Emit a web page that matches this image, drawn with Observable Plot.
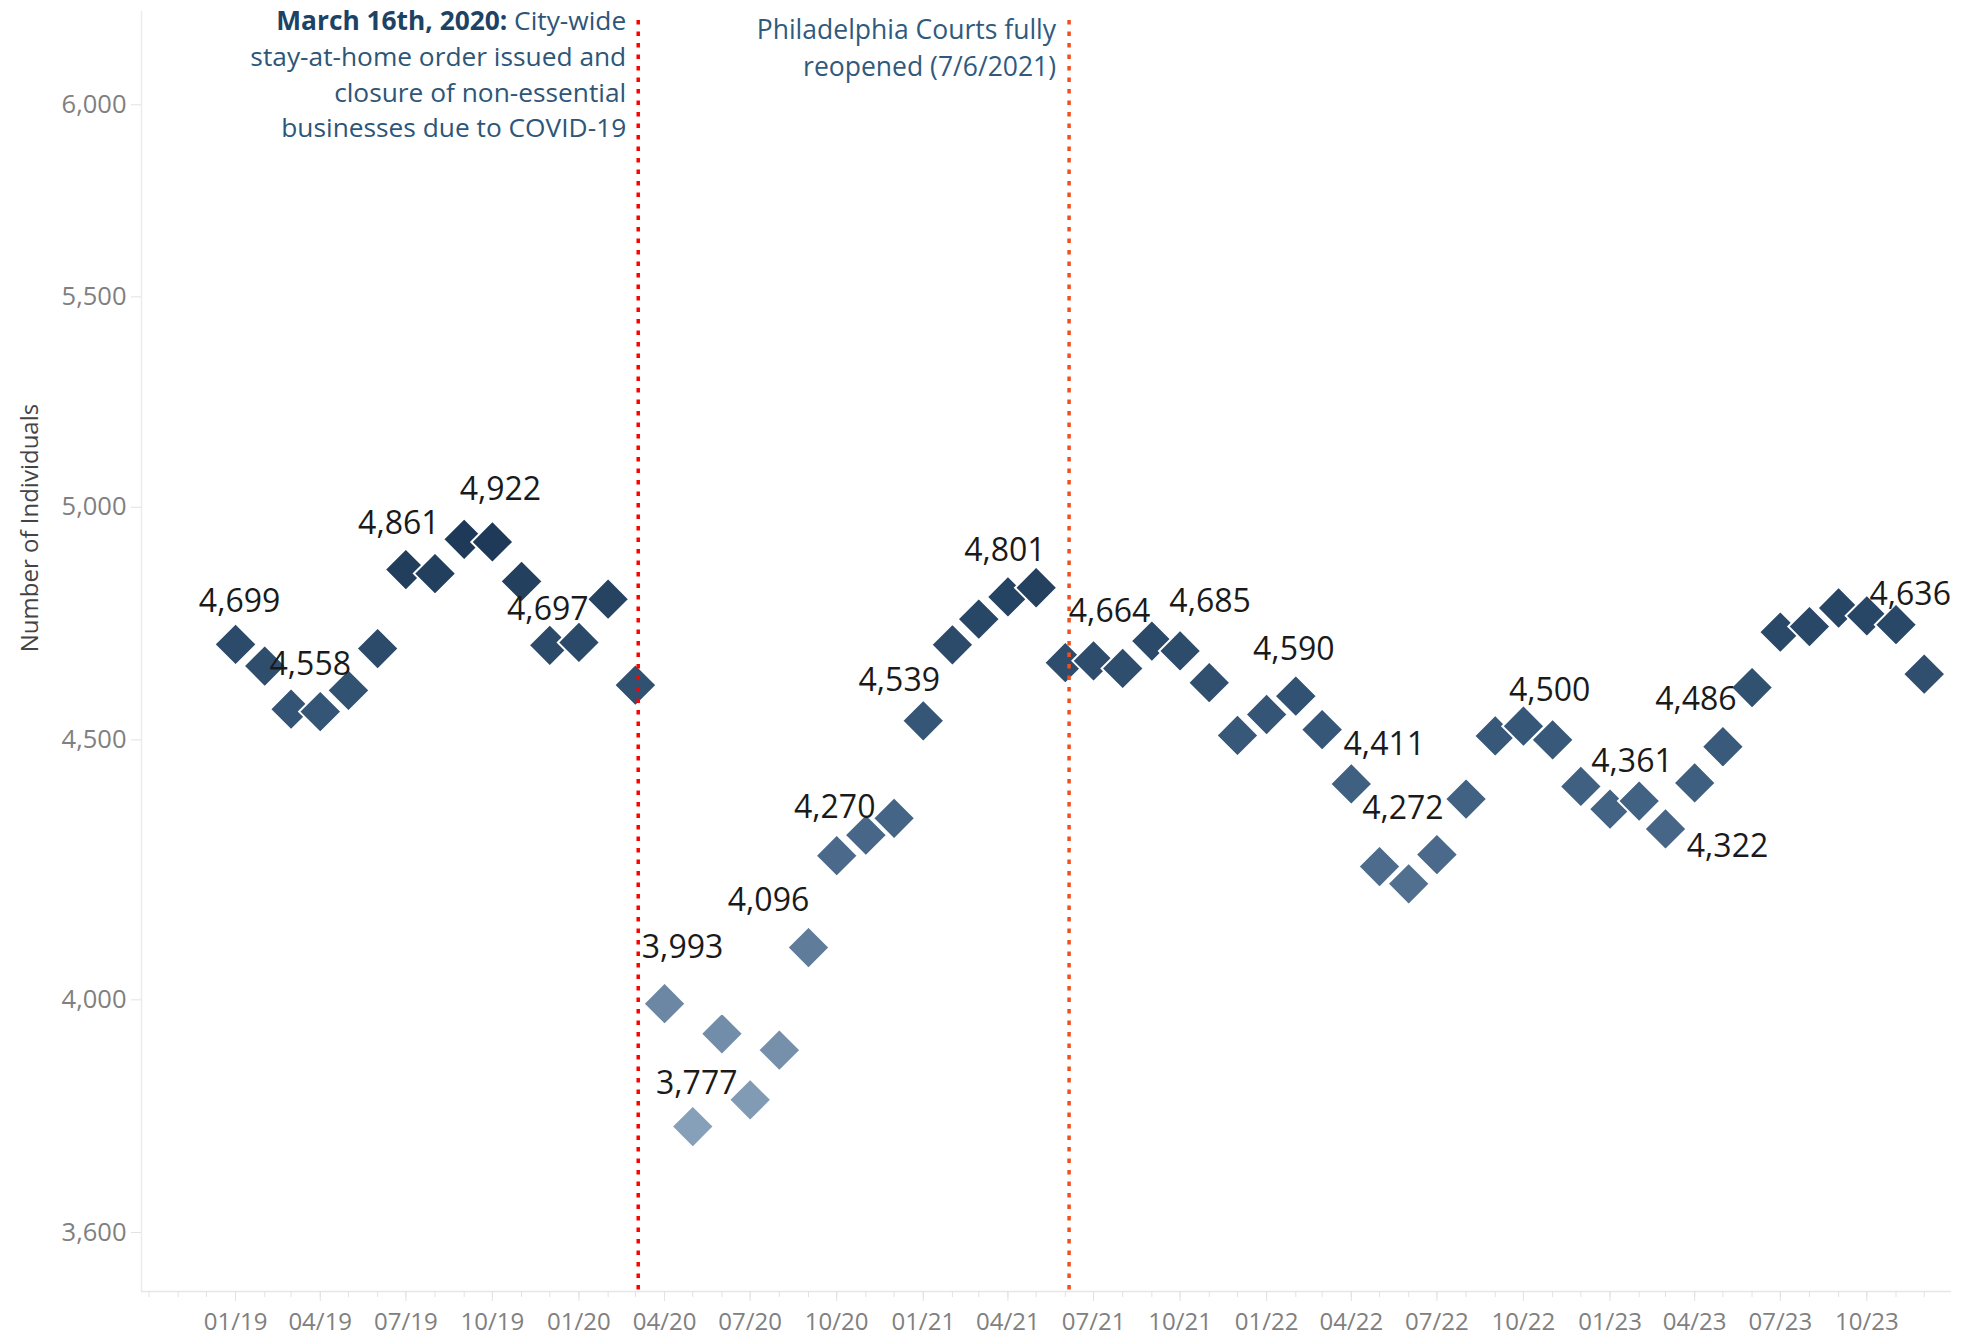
<!DOCTYPE html>
<html>
<head>
<meta charset="utf-8">
<script src="https://cdn.jsdelivr.net/npm/d3@7"></script>
<script src="https://cdn.jsdelivr.net/npm/@observablehq/plot@0.6"></script>
<style>
  html, body { margin: 0; padding: 0; background: #ffffff; }
  #chart { width: 1981px; height: 1339px; overflow: hidden; }
</style>
</head>
<body>
<div id="chart"></div>
<script>
// ---------------- DATA ----------------
const months = [
  "2019-01","2019-02","2019-03","2019-04","2019-05","2019-06","2019-07","2019-08","2019-09","2019-10","2019-11","2019-12",
  "2020-01","2020-02","2020-03","2020-04","2020-05","2020-06","2020-07","2020-08","2020-09","2020-10","2020-11","2020-12",
  "2021-01","2021-02","2021-03","2021-04","2021-05","2021-06","2021-07","2021-08","2021-09","2021-10","2021-11","2021-12",
  "2022-01","2022-02","2022-03","2022-04","2022-05","2022-06","2022-07","2022-08","2022-09","2022-10","2022-11","2022-12",
  "2023-01","2023-02","2023-03","2023-04","2023-05","2023-06","2023-07","2023-08","2023-09","2023-10","2023-11","2023-12"
];
const individuals = [
  4699, 4653, 4563, 4558, 4602, 4690, 4861, 4852, 4928, 4922, 4835, 4697,
  4703, 4796, 4613, 3993, 3777, 3939, 3823, 3910, 4096, 4270, 4310, 4343,
  4539, 4698, 4753, 4801, 4821, 4660, 4664, 4648, 4706, 4685, 4618, 4509,
  4552, 4590, 4521, 4411, 4249, 4216, 4272, 4381, 4508, 4528, 4500, 4406,
  4361, 4377, 4322, 4413, 4486, 4608, 4725, 4737, 4777, 4760, 4741, 4636
];
const labeledMonths = [
  "2019-01","2019-04","2019-07","2019-10","2019-12",
  "2020-04","2020-05","2020-09","2020-10",
  "2021-01","2021-04","2021-07","2021-10",
  "2022-02","2022-04","2022-07","2022-11",
  "2023-01","2023-03","2023-05","2023-12"
];
const yTicks = [3600, 4000, 4500, 5000, 5500, 6000];
const xTickMonths = [
  "2019-01","2019-04","2019-07","2019-10","2020-01","2020-04","2020-07","2020-10",
  "2021-01","2021-04","2021-07","2021-10","2022-01","2022-04","2022-07","2022-10",
  "2023-01","2023-04","2023-07","2023-10"
];
const eventDates = ["2020-03-04", "2021-06-05"];
const eventTexts = [
  "March 16th, 2020: City-wide\nstay-at-home order issued and\nclosure of non-essential\nbusinesses due to COVID-19",
  "Philadelphia Courts fully\nreopened (7/6/2021)"
];
const yTitle = "Number of Individuals";

// ---------------- LAYOUT / STYLE CONFIG ----------------
const labelPlacement = {
  "2019-01": [4, -43], "2019-04": [-10, -47], "2019-07": [-7, -46], "2019-10": [8, -52], "2019-12": [-2, -36],
  "2020-04": [18, -56], "2020-05": [4, -43], "2020-09": [-40, -47], "2020-10": [-2, -48],
  "2021-01": [-24, -40], "2021-04": [-3, -46], "2021-07": [16, -49], "2021-10": [30, -49],
  "2022-02": [-2, -46], "2022-04": [33, -39], "2022-07": [-34, -46], "2022-11": [-3, -49],
  "2023-01": [22, -47], "2023-03": [62, 18], "2023-05": [-27, -47], "2023-12": [-14, -79]
};
const colorStops = [3777, 4000, 4270, 4500, 4922];
const colorRange = ["#87a0b9", "#6a86a3", "#4b6a8b", "#38597a", "#1e3a58"];
const eventColors = ["#ff0000", "#f24e1e"];

const parseMonth = d3.utcParse("%Y-%m");
const parseDay = d3.utcParse("%Y-%m-%d");
const fmtComma = d3.format(",");

const data = months.map((m, i) => ({month: m, date: parseMonth(m), value: individuals[i]}));
const labeled = data.filter(d => labeledMonths.includes(d.month));
const events = eventDates.map((d, i) => ({date: parseDay(d), text: eventTexts[i], color: eventColors[i]}));

const xDomain = [parseDay("2018-09-23"), parseDay("2023-12-30")];
const yDomain = [3505, 6259];

const monthlyTicks = d3.utcMonth.range(parseDay("2018-10-01"), parseDay("2024-01-01"));
const quarterTicks = xTickMonths.map(parseMonth);

const labelMarks = labeled.map(d => Plot.text([d], {
  x: "date", y: "value",
  text: v => fmtComma(v.value),
  dx: labelPlacement[d.month][0],
  dy: labelPlacement[d.month][1],
  fontSize: 32, fill: "#1a1a1a", lineAnchor: "middle", textAnchor: "middle"
}));

const chart = Plot.plot({
  width: 1981,
  height: 1339,
  marginLeft: 141,
  marginRight: 30,
  marginTop: 11,
  marginBottom: 48,
  style: {fontFamily: "'Open Sans', sans-serif", background: "#ffffff", overflow: "visible"},
  x: {type: "utc", domain: xDomain},
  y: {type: "log", domain: yDomain},
  color: {type: "linear", domain: colorStops, range: colorRange, interpolate: "rgb"},
  marks: [
    Plot.ruleX([xDomain[0]], {stroke: "#ececec", strokeWidth: 1.5}),
    Plot.ruleY([yDomain[0]], {stroke: "#e6e6e6", strokeWidth: 1.5}),
    Plot.axisY({ticks: yTicks, tickFormat: ",", tickSize: 10, tickPadding: 5, stroke: "#e2e2e2",
      fill: "#808080", fontSize: 25.5, label: null}),
    Plot.axisX({ticks: monthlyTicks, tickSize: 6, tickFormat: () => "", stroke: "#e2e2e2", label: null}),
    Plot.axisX({ticks: quarterTicks, tickSize: 10, tickPadding: 11, tickFormat: d3.utcFormat("%m/%y"),
      stroke: "#e2e2e2", fill: "#808080", fontSize: 24, label: null}),
    Plot.dot(data, {x: "date", y: "value", symbol: "diamond2", r: 19, fill: "value",
      stroke: "#ffffff", strokeWidth: 2}),
    Plot.ruleX(events, {x: "date", stroke: "color", strokeWidth: 3.5, strokeDasharray: "4.5 7", insetTop: 9}),
    Plot.text([events[0]], {x: "date", text: "text", frameAnchor: "top", textAnchor: "end", lineAnchor: "top",
      dx: -12, dy: -6.5, fontSize: 26.3, lineHeight: 1.354, fill: "#2d5678"}),
    Plot.text([events[1]], {x: "date", text: "text", frameAnchor: "top", textAnchor: "end", lineAnchor: "top",
      dx: -13, dy: 1.5, fontSize: 26.5, lineHeight: 1.385, fill: "#2f5a7e"}),
    ...labelMarks
  ]
});

document.getElementById("chart").appendChild(chart);

// bold lead-in for the first annotation
const svgNS = "http://www.w3.org/2000/svg";
const boldLead = "March 16th, 2020:";
chart.querySelectorAll("tspan").forEach(t => {
  if (t.textContent.startsWith(boldLead)) {
    const rest = t.textContent.slice(boldLead.length);
    t.textContent = "";
    const b = document.createElementNS(svgNS, "tspan");
    b.setAttribute("font-weight", "bold");
    b.setAttribute("fill", "#1c4365");
    b.textContent = boldLead;
    t.appendChild(b);
    t.appendChild(document.createTextNode(rest));
  }
});

// y-axis title
d3.select(chart).append("text")
  .attr("transform", "translate(32,528) rotate(-90)")
  .attr("text-anchor", "middle")
  .attr("dominant-baseline", "middle")
  .attr("font-size", 24)
  .attr("fill", "#444444")
  .text(yTitle);
</script>
</body>
</html>
